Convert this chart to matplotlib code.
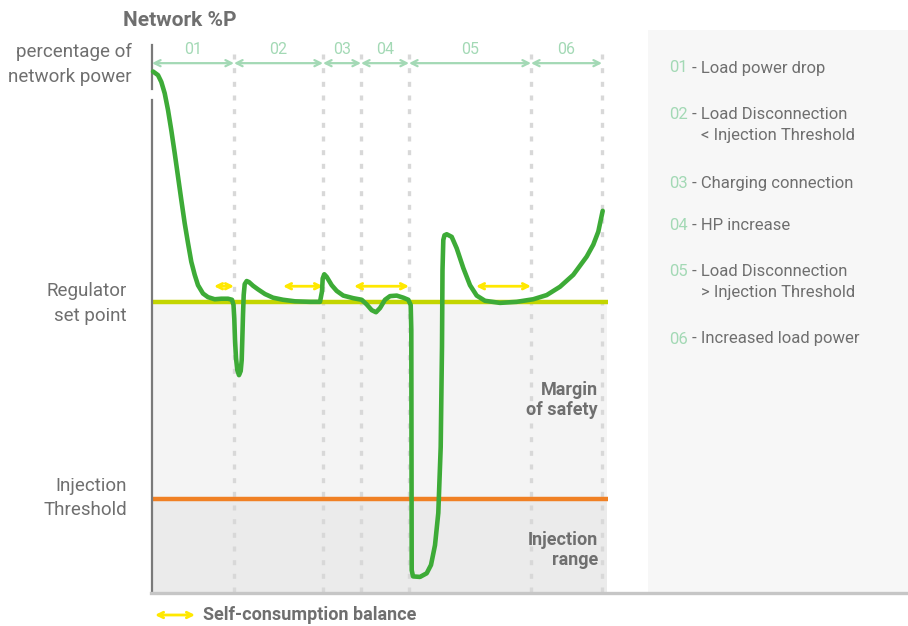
import matplotlib
matplotlib.use("Agg")
import matplotlib.pyplot as plt
from matplotlib import font_manager as fm
from matplotlib.patches import Rectangle, FancyArrowPatch
from matplotlib.lines import Line2D

names = {f.name for f in fm.fontManager.ttflist}
FONT = "Liberation Sans Narrow" if "Liberation Sans Narrow" in names else "Roboto"
plt.rcParams['font.family'] = [FONT, 'DejaVu Sans']

# ---------------- data ----------------
# time (arbitrary units) and network power (% of network power)
time = [1, 6, 9.3, 12.7, 16, 19.3, 22.7, 26, 29.3, 32.7, 36, 39.3, 42.7, 46,
        51, 56, 62.7, 69.3, 76, 80, 81.5, 82.3, 83, 84, 85.3, 87, 88.7, 89.7,
        90.3, 91, 91.7, 92.7, 94.7, 97, 101, 106, 113, 121, 131, 143, 158,
        168, 170, 170.7, 172.3, 174.7, 179.7, 184.7, 191.3, 201.3, 209.7,
        214.7, 219.7, 224, 228, 233, 238, 244.7, 251.3, 256.3, 258.7, 259.3,
        259.5, 259.7, 261, 268, 274.7, 279, 283, 286.3, 288.7, 290, 290.5,
        291.3, 292.5, 294.7, 299.7, 304.7, 311.3, 318, 324.7, 333, 348,
        364.7, 381.3, 394.7, 408, 421.3, 434.7, 441.3, 446.3, 450.7]
power = [100.1, 99.4, 98.1, 95.9, 92.7, 88.8, 84.4, 79.9, 75.4, 70.9, 67.1,
         63.5, 61.0, 59.0, 57.4, 56.7, 56.3, 56.4, 56.4, 56.2, 55.2, 52.5, 48.5,
         45.0, 42.7, 41.7, 42.5, 44.6, 48.5, 53.3, 57.1, 59.2, 59.8, 59.6, 58.9,
         58.2, 57.3, 56.6, 56.2, 55.9, 55.8, 55.8, 57.8, 60.3, 61.1, 60.6, 59.0,
         57.9, 57.0, 56.5, 56.2, 55.3, 54.2, 53.8, 54.6, 56.2, 56.9, 57.0, 56.6,
         56.2, 55.2, 50.4, 27.3, 4.2, 3.0, 2.9, 3.6, 5.2, 9.0, 15.2, 27.9, 47.2,
         61.9, 67.7, 68.6, 68.8, 68.3, 66.1, 62.3, 59.0, 57.0, 56.0, 55.6, 55.8,
         56.3, 57.1, 58.7, 61.0, 64.5, 66.8, 69.3, 73.3]

setpoint = 55.8
threshold = 17.9

phase_bounds = [0, 82, 171, 209, 257, 379, 450]
phase_labels = ["01", "02", "03", "04", "05", "06"]
phase_desc = ["Load power drop",
              "Load Disconnection\n< Injection Threshold",
              "Charging connection",
              "HP increase",
              "Load Disconnection\n> Injection Threshold",
              "Increased load power"]

balance_start = [62, 131, 202, 324]
balance_end = [82, 171, 257, 379]

# ---------------- style ----------------
W, H = 908, 626
GREEN = "#3dab37"
SET_C = "#c3d500"
THR_C = "#f08024"
LGREEN = "#a3d9b5"
YELLOW = "#ffe800"
GRAY_T = "#6f6f6f"
DOT_C = "#d8d8d8"

fig = plt.figure(figsize=(W / 100, H / 100), dpi=100)
fig.patch.set_facecolor("white")

def fx(px):
    return px / W

def fy(py):
    return 1 - py / H

# legend panel
fig.add_artist(Rectangle((fx(648), fy(592)), fx(908) - fx(648), fy(30) - fy(592),
                         transform=fig.transFigure, facecolor="#f7f7f7",
                         edgecolor="none", zorder=0))
# bottom axis line
fig.add_artist(Line2D([fx(151), fx(908)], [fy(593), fy(593)], transform=fig.transFigure,
                      color="#c6c6c6", lw=2.4, zorder=1))

y_top = 108
px_per = 5.2
ax = fig.add_axes([fx(152), fy(592), fx(607) - fx(152), (y_top * px_per) / H])
ax.set_xlim(0, 455)
ax.set_ylim(0, y_top)
ax.set_facecolor("none")
for s in ax.spines.values():
    s.set_visible(False)
ax.set_xticks([])
ax.set_yticks([])

# shaded bands
ax.axhspan(threshold, setpoint, color="#f4f4f4", zorder=0, lw=0)
ax.axhspan(0, threshold, color="#ebebeb", zorder=0, lw=0)

# dotted phase boundaries
for b in phase_bounds[1:]:
    ax.plot([b, b], [0, 104.3], color=DOT_C, lw=2.4, ls=(0, (1.5, 2.6)),
            solid_capstyle="butt", zorder=1)

# left axis (with a small break)
ax.plot([0, 0], [0, 94.6], color="#7a7a7a", lw=1.6, zorder=3, clip_on=False)
ax.plot([0, 0], [96.8, 105.2], color="#7a7a7a", lw=1.6, zorder=3, clip_on=False)

# reference lines
ax.plot([0, 456], [setpoint, setpoint], color=SET_C, lw=3.2, zorder=2,
        solid_capstyle="butt", clip_on=False)
ax.plot([0, 456], [threshold, threshold], color=THR_C, lw=3.2, zorder=2,
        solid_capstyle="butt", clip_on=False)

# phase arrows and labels
arrow_y = 101.7
for i, lab in enumerate(phase_labels):
    a, b = phase_bounds[i], phase_bounds[i + 1]
    ax.annotate("", xy=(b, arrow_y), xytext=(a, arrow_y),
                arrowprops=dict(arrowstyle="<->", color=LGREEN, lw=1.6,
                                mutation_scale=11, shrinkA=0, shrinkB=0),
                annotation_clip=False)
    ax.text((a + b) / 2, 104.4, lab, color=LGREEN, fontsize=11.5,
            ha="center", va="center", clip_on=False)

# self-consumption balance arrows
bal_y = 58.8
for a, b in zip(balance_start, balance_end):
    ax.annotate("", xy=(b, bal_y), xytext=(a, bal_y),
                arrowprops=dict(arrowstyle="<->", color=YELLOW, lw=2.0,
                                mutation_scale=10, shrinkA=0, shrinkB=0))

# main curve
ax.plot(time, power, color=GREEN, lw=3.3, solid_joinstyle="round",
        solid_capstyle="round", zorder=5, clip_on=False)

# band labels
ax.text(446, 36.9, "Margin\nof safety", ha="right", va="center", fontsize=13,
        fontweight="bold", color=GRAY_T, linespacing=1.15)
ax.text(446, 8.1, "Injection\nrange", ha="right", va="center", fontsize=13,
        fontweight="bold", color=GRAY_T, linespacing=1.15)

# left-side texts
fig.text(fx(236), fy(20), "Network %P", ha="right", va="center", fontsize=15,
         fontweight="bold", color=GRAY_T)
fig.text(fx(132), fy(64.5), "percentage of\nnetwork power", ha="right", va="center",
         fontsize=13.5, color=GRAY_T, linespacing=1.45)
fig.text(fx(127), fy(303.5), "Regulator\nset point", ha="right", va="center",
         fontsize=13.5, color=GRAY_T, linespacing=1.45)
fig.text(fx(127), fy(498), "Injection\nThreshold", ha="right", va="center",
         fontsize=13.5, color=GRAY_T, linespacing=1.45)

# right legend
leg_y = [68, 125, 183, 226, 282, 339]
for lab, desc, yy in zip(phase_labels, phase_desc, leg_y):
    lines = desc.split("\n")
    nlines = len(lines)
    top = yy - (nlines - 1) * 10.5
    t1 = fig.text(fx(669), fy(top), lab, color=LGREEN, fontsize=12,
                  ha="left", va="center")
    fig.add_artist(matplotlib.text.Annotation(
        " - " + lines[0], xy=(1, 0.5), xycoords=t1, va="center", ha="left",
        fontsize=12, color=GRAY_T, annotation_clip=False))
    if nlines > 1:
        fig.text(fx(701), fy(top + 21), lines[1], color=GRAY_T, fontsize=12,
                 ha="left", va="center")

# bottom legend
arr = FancyArrowPatch((fx(155), fy(615)), (fx(195), fy(615)),
                      transform=fig.transFigure, arrowstyle="<->", color=YELLOW,
                      lw=2.0, mutation_scale=10, shrinkA=0, shrinkB=0)
fig.add_artist(arr)
fig.text(fx(203), fy(615.5), "Self-consumption balance", ha="left", va="center",
         fontsize=13, fontweight="bold", color=GRAY_T)

fig.savefig("out.png", dpi=100, facecolor="white")
